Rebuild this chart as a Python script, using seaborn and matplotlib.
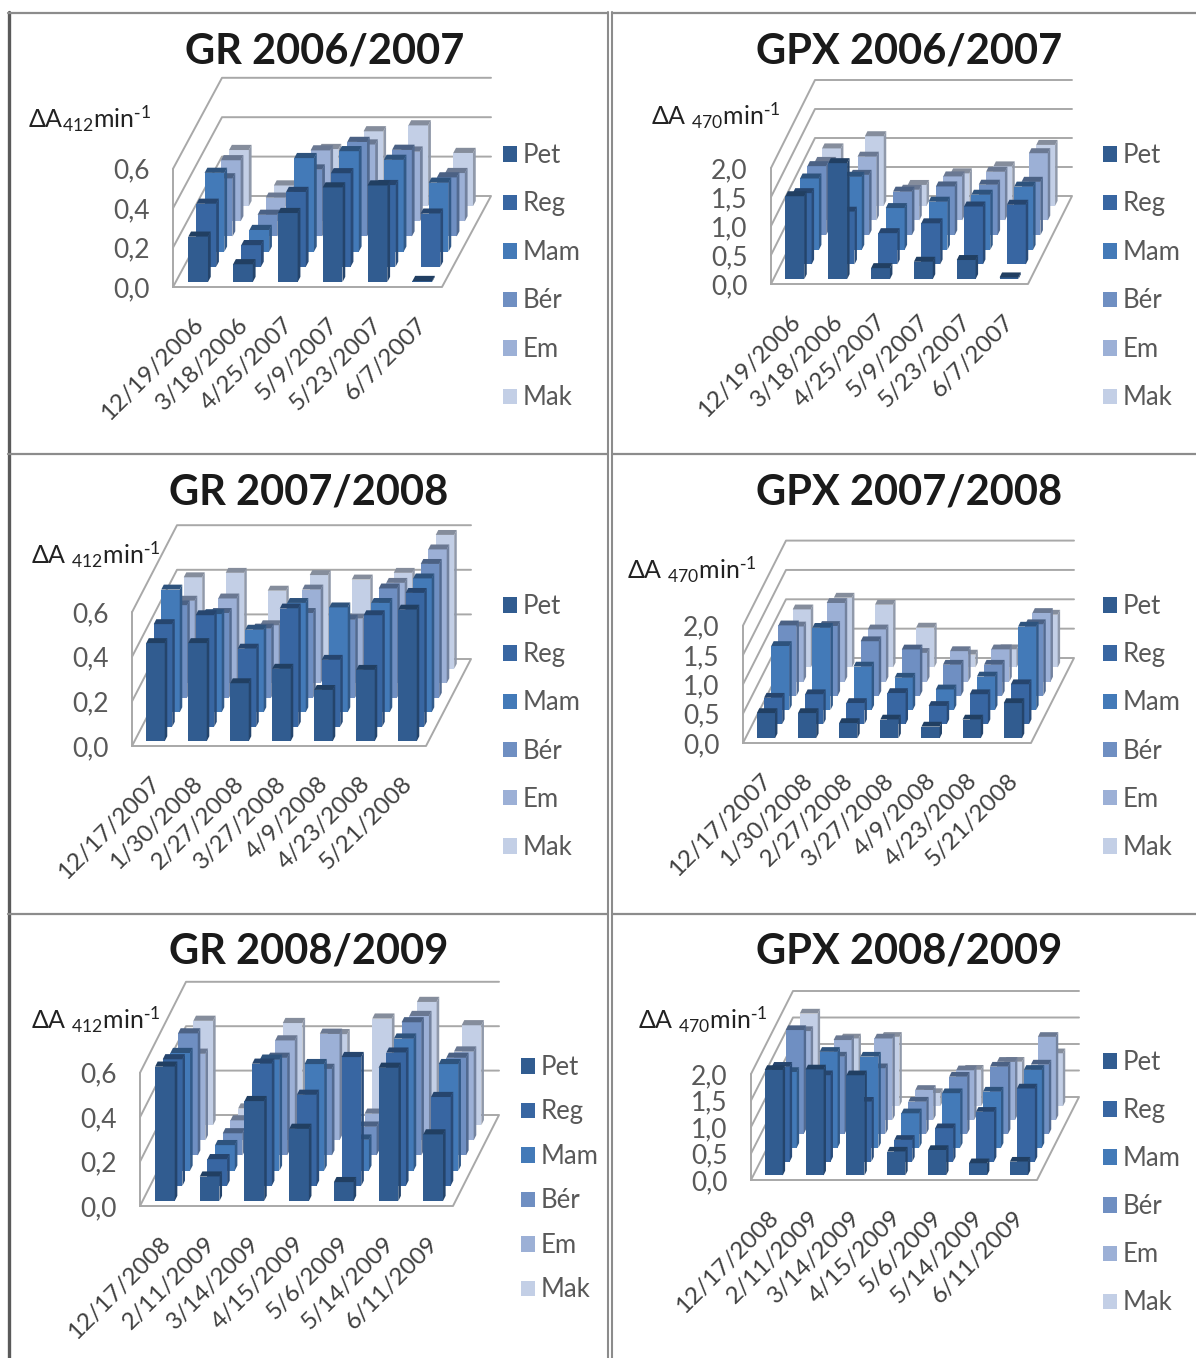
import matplotlib
matplotlib.use("Agg")
import numpy as np
import pandas as pd
import matplotlib.pyplot as plt
import seaborn as sns
from matplotlib.lines import Line2D
from matplotlib.patches import Patch
from matplotlib.transforms import Affine2D

SERIES = ["Pet", "Reg", "Mam", "Bér", "Em", "Mak"]

# one row per sampling date, columns follow SERIES
GR_0607_DATES = ["12/19/2006", "3/18/2006", "4/25/2007", "5/9/2007", "5/23/2007", "6/7/2007"]
GR_0607 = [
    [0.23, 0.32, 0.40, 0.295, 0.31, 0.285],
    [0.09, 0.11, 0.11, 0.11, 0.12, 0.105],
    [0.35, 0.38, 0.475, 0.34, 0.36, 0.29],
    [0.48, 0.475, 0.51, 0.48, 0.39, 0.38],
    [0.49, 0.415, 0.466, 0.44, 0.354, 0.41],
    [0.005, 0.27, 0.35, 0.30, 0.245, 0.27],
]

GPX_0607_DATES = GR_0607_DATES
GPX_0607 = [
    [1.43, 1.23, 1.23, 1.19, 1.01, 0.99],
    [2.00, 0.91, 1.26, 1.04, 1.10, 1.20],
    [0.19, 0.54, 0.72, 0.75, 0.53, 0.36],
    [0.30, 0.71, 0.83, 0.84, 0.76, 0.56],
    [0.33, 1.00, 0.95, 0.87, 0.84, 0.68],
    [0.03, 1.03, 1.09, 0.92, 1.16, 1.05],
]

GR_0708_DATES = ["12/17/2007", "1/30/2008", "2/27/2008", "3/27/2008", "4/9/2008", "4/23/2008", "5/21/2008"]
GR_0708 = [
    [0.44, 0.46, 0.55, 0.415, 0.37, 0.41],
    [0.44, 0.50, 0.44, 0.38, 0.38, 0.43],
    [0.26, 0.35, 0.37, 0.31, 0.26, 0.35],
    [0.325, 0.53, 0.49, 0.38, 0.42, 0.42],
    [0.23, 0.30, 0.47, 0.35, 0.29, 0.40],
    [0.32, 0.50, 0.49, 0.49, 0.45, 0.43],
    [0.59, 0.60, 0.60, 0.60, 0.60, 0.60],
]

GPX_0708_DATES = GR_0708_DATES
GPX_0708 = [
    [0.43, 0.45, 1.09, 1.20, 0.94, 0.99],
    [0.43, 0.51, 1.40, 1.19, 1.34, 1.19],
    [0.26, 0.36, 0.74, 0.93, 0.89, 1.07],
    [0.32, 0.53, 0.55, 0.79, 0.49, 0.68],
    [0.20, 0.31, 0.35, 0.53, 0.52, 0.22],
    [0.32, 0.51, 0.57, 0.53, 0.55, 0.31],
    [0.60, 0.68, 1.42, 1.22, 1.17, 0.90],
]

GR_0809_DATES = ["12/17/2008", "2/11/2009", "3/14/2009", "4/15/2009", "5/6/2009", "5/14/2009", "6/11/2009"]
GR_0809 = [
    [0.605, 0.57, 0.53, 0.55, 0.39, 0.47],
    [0.11, 0.12, 0.115, 0.10, 0.09, 0.075],
    [0.45, 0.55, 0.50, 0.44, 0.45, 0.46],
    [0.325, 0.41, 0.48, 0.39, 0.48, 0.41],
    [0.085, 0.58, 0.14, 0.13, 0.12, 0.48],
    [0.60, 0.60, 0.595, 0.60, 0.56, 0.555],
    [0.30, 0.40, 0.48, 0.44, 0.40, 0.45],
]

GPX_0809_DATES = GR_0809_DATES
GPX_0809 = [
    [1.99, 1.79, 1.43, 1.96, 1.68, 1.75],
    [2.00, 1.63, 1.81, 1.46, 1.51, 1.28],
    [1.89, 1.13, 1.72, 1.24, 1.54, 1.31],
    [0.45, 0.41, 0.65, 0.61, 0.57, 0.25],
    [0.48, 0.63, 1.03, 1.08, 0.94, 0.69],
    [0.23, 0.94, 1.06, 1.27, 1.10, 0.84],
    [0.26, 1.38, 1.47, 1.31, 1.57, 1.00],
]

GR_TICKS = [0.0, 0.2, 0.4, 0.6]
GPX_TICKS = [0.0, 0.5, 1.0, 1.5, 2.0]

FIG_W, FIG_H = 1196, 1358

# layout in pixels: front-left corner, floor width, depth vector, px per unit value
PANELS = [
    dict(title="GR 2006/2007", title_xy=(325, 51), dates=GR_0607_DATES, rows=GR_0607, ticks=GR_TICKS,
         origin=(173, 287), width=269, depth=(49, 91), unit=197,
         ylabel="ΔA$_{412}$min$^{\\text{-}1}$", ylabel_xy=(28, 119), legend_xy=(503, 143), pitch=48.6),
    dict(title="GPX 2006/2007", title_xy=(909, 51), dates=GPX_0607_DATES, rows=GPX_0607, ticks=GPX_TICKS,
         origin=(771, 284), width=257, depth=(44, 88), unit=58,
         ylabel="ΔA $_{470}$min$^{\\text{-}1}$", ylabel_xy=(651, 116), legend_xy=(1103, 143), pitch=48.6),
    dict(title="GR 2007/2008", title_xy=(309, 492), dates=GR_0708_DATES, rows=GR_0708, ticks=GR_TICKS,
         origin=(132, 746), width=294, depth=(45, 87), unit=223,
         ylabel="ΔA $_{412}$min$^{\\text{-}1}$", ylabel_xy=(31, 555), legend_xy=(503, 594), pitch=48.3),
    dict(title="GPX 2007/2008", title_xy=(909, 492), dates=GPX_0708_DATES, rows=GPX_0708, ticks=GPX_TICKS,
         origin=(743, 743), width=288, depth=(43, 85), unit=58.7,
         ylabel="ΔA $_{470}$min$^{\\text{-}1}$", ylabel_xy=(627, 570), legend_xy=(1103, 594), pitch=48.3),
    dict(title="GR 2008/2009", title_xy=(309, 952), dates=GR_0809_DATES, rows=GR_0809, ticks=GR_TICKS,
         origin=(140, 1206), width=313, depth=(46, 91), unit=222,
         ylabel="ΔA $_{412}$min$^{\\text{-}1}$", ylabel_xy=(31, 1020), legend_xy=(521, 1055), pitch=44.6),
    dict(title="GPX 2008/2009", title_xy=(909, 952), dates=GPX_0809_DATES, rows=GPX_0809, ticks=GPX_TICKS,
         origin=(751, 1180), width=286, depth=(42, 83), unit=53,
         ylabel="ΔA $_{470}$min$^{\\text{-}1}$", ylabel_xy=(638, 1020), legend_xy=(1103, 1050), pitch=48.2),
]

sns.set_theme(style="white")
plt.rcParams["font.family"] = ["Lato", "DejaVu Sans"]
plt.rcParams["mathtext.default"] = "regular"

PALETTE = sns.color_palette(["#315C90", "#3866A2", "#437AB8", "#6F8FC2", "#9CB0D6", "#C3CFE6"])
WALL = "#A8A8A8"
BAR_WIDTH = 0.44
BAR_DEPTH = 0.34

fig = plt.figure(figsize=(FIG_W / 100, FIG_H / 100), dpi=100, facecolor="white")


def shade(color, k):
    return tuple(c * k for c in color)


def draw_panel(cfg):
    rows = pd.DataFrame(cfg["rows"], index=cfg["dates"], columns=SERIES)
    n = len(rows)
    ymax = cfg["ticks"][-1]
    ox, oy = cfg["origin"]
    ax_h = cfg["unit"] * ymax
    ax = fig.add_axes([ox / FIG_W, 1 - oy / FIG_H, cfg["width"] / FIG_W, ax_h / FIG_H])
    ax.patch.set_visible(False)

    # depth vector expressed in data units, so the shear follows the axis scales
    dx = cfg["depth"][0] / cfg["width"] * n
    dy = cfg["depth"][1] / cfg["unit"]

    # floor and walls
    left, right = -0.5, n - 0.5
    ax.plot([left, right, right + dx, left + dx, left], [0, 0, dy, dy, 0], color=WALL, lw=1.4, clip_on=False, zorder=1)
    for t in cfg["ticks"][1:]:
        ax.plot([left, left + dx, right + dx], [t, t + dy, t + dy], color=WALL, lw=1.4, clip_on=False, zorder=1)
    ax.plot([left, left], [0, ymax], color=WALL, lw=1.4, clip_on=False, zorder=1)

    # back row first so nearer bars cover it
    for s in range(len(SERIES) - 1, -1, -1):
        name = SERIES[s]
        frac = (s + 0.33) / len(SERIES)
        tr = Affine2D().translate(frac * dx, frac * dy) + ax.transData
        z = 10 + (len(SERIES) - s)
        sns.barplot(x=rows.index, y=rows[name], order=cfg["dates"], ax=ax, color=PALETTE[s], saturation=1,
                    width=BAR_WIDTH, errorbar=None, linewidth=0, transform=tr, zorder=z, clip_on=False)
        ddx = BAR_DEPTH / len(SERIES) * dx
        ddy = BAR_DEPTH / len(SERIES) * dy
        for bar in ax.containers[-1]:
            x0, x1, h = bar.get_x(), bar.get_x() + bar.get_width(), bar.get_height()
            ax.fill([x1, x1 + ddx, x1 + ddx, x1], [0, ddy, h + ddy, h], color=shade(PALETTE[s], 0.74),
                    lw=0, transform=tr, zorder=z, clip_on=False)
            ax.fill([x0, x1, x1 + ddx, x0 + ddx], [h, h, h + ddy, h + ddy], color=shade(PALETTE[s], 0.68),
                    lw=0, transform=tr, zorder=z, clip_on=False)

    ax.set_xlim(left, right)
    ax.set_ylim(0, ymax)
    ax.set_xlabel("")
    ax.set_ylabel("")
    ax.grid(False)
    sns.despine(ax=ax, left=True, bottom=True)
    ax.set_yticks(cfg["ticks"])
    ax.set_yticklabels([f"{t:.1f}".replace(".", ",") for t in cfg["ticks"]], fontsize=19, color="#595959")
    ax.set_xticks(np.arange(n) + 0.1)
    ax.set_xticklabels(cfg["dates"], rotation=45, ha="right", va="center", rotation_mode="anchor",
                       fontsize=17.5, color="#404040")
    ax.tick_params(axis="y", length=0, pad=17)
    ax.tick_params(axis="x", length=0, pad=25)

    fig.text(cfg["title_xy"][0] / FIG_W, 1 - cfg["title_xy"][1] / FIG_H, cfg["title"], fontsize=30,
             fontweight="bold", ha="center", va="center", color="#1a1a1a")
    fig.text(cfg["ylabel_xy"][0] / FIG_W, 1 - cfg["ylabel_xy"][1] / FIG_H, cfg["ylabel"], fontsize=18,
             ha="left", va="center", color="#222222")

    handles = [Patch(facecolor=PALETTE[i], edgecolor="none", label=SERIES[i]) for i in range(len(SERIES))]
    fs = 18.5
    line_h = fs * 100 / 72
    fig.legend(handles=handles, loc="upper left", frameon=False, fontsize=fs,
               bbox_to_anchor=(cfg["legend_xy"][0] / FIG_W, 1 - cfg["legend_xy"][1] / FIG_H),
               bbox_transform=fig.transFigure, handlelength=0.55, handleheight=0.55, handletextpad=0.22,
               labelcolor="#595959", borderpad=0, borderaxespad=0,
               labelspacing=(cfg["pitch"] - 0.977 * line_h) / line_h)


for cfg in PANELS:
    draw_panel(cfg)

# grey frame lines between the six charts, doubled down the middle
for xs, ys, lw, col in [
    ((9, 9), (12, 1358), 2.4, "#5A5A5A"),
    ((608, 608), (12, 1358), 1.5, "#8C8C8C"),
    ((611.5, 611.5), (12, 1358), 1.5, "#8C8C8C"),
    ((8, 607), (13, 13), 1.6, "#8C8C8C"),
    ((612, 1196), (13, 13), 1.6, "#8C8C8C"),
    ((8, 607), (454, 454), 1.6, "#8C8C8C"),
    ((612, 1196), (454, 454), 1.6, "#8C8C8C"),
    ((8, 607), (914, 914), 1.6, "#8C8C8C"),
    ((612, 1196), (914, 914), 1.6, "#8C8C8C"),
]:
    fig.add_artist(Line2D([x / FIG_W for x in xs], [1 - y / FIG_H for y in ys], color=col, lw=lw))

fig.savefig("out.png", dpi=100)
